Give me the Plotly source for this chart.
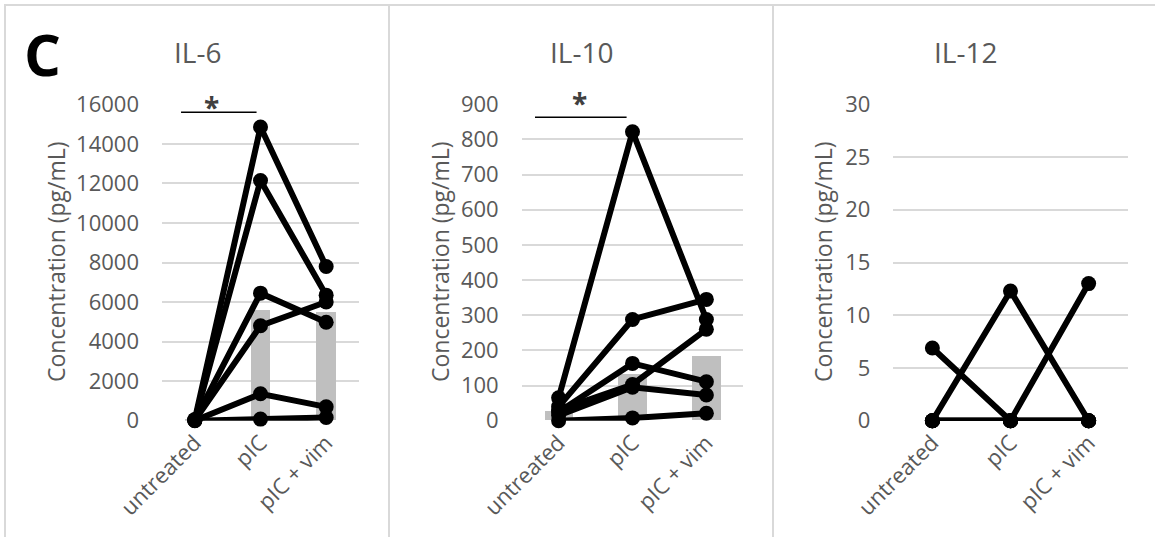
import plotly.graph_objects as go

W, H = 1155, 537

categories = ["untreated", "pIC", "pIC + vim"]

# IL-6 (pg/mL), one list per donor
il6_lines = [
    [60, 14850, 7800],
    [40, 12150, 6350],
    [30, 6450, 4980],
    [20, 4800, 6000],
    [10, 1360, 700],
    [0, 80, 160],
]
il6_bars = [30, 5600, 5480]

# IL-10 (pg/mL)
il10_lines = [
    [65, 822, 288],
    [40, 288, 345],
    [25, 163, 111],
    [30, 103, 260],
    [15, 95, 73],
    [0, 8, 21],
]
il10_bars = [28, 133, 184]

# IL-12 (pg/mL)
il12_lines = [
    [6.9, 0, 0],
    [0, 12.3, 0],
    [0, 0, 13.0],
    [0, 0, 0],
    [0, 0, 0],
    [0, 0, 0],
]
il12_bars = [0, 0, 0]

titles = ["IL-6", "IL-10", "IL-12"]
y_max = [16000, 900, 30]
y_step = [2000, 100, 5]
bar_width = [0.30, 0.39, 0.39]

# significance brackets: (x0, x1, y_line, x_star, y_star) in data units
sig = {0: (-0.21, 0.94, 15600, 0.26, 16170), 1: (-0.32, 0.92, 863, 0.28, 920)}

# layout geometry in pixels
plot_left = [162, 521.7, 893.3]
plot_right = [359, 743.3, 1127.7]
plot_top, plot_bottom = 104.3, 420.7
ytitle_x = [56, 440, 823]
title_x = [197, 581, 965]
panel_edges = [5, 389, 773]

GRAY_TXT = "#595959"
GRID = "#D9D9D9"
FONT = "Open Sans"

data_sets = [(il6_lines, il6_bars), (il10_lines, il10_bars), (il12_lines, il12_bars)]


def to_paper(i, xv, yv):
    """convert category/value units of panel i to paper fractions"""
    xd0, xd1 = plot_left[i] / W, plot_right[i] / W
    yd0, yd1 = 1 - plot_bottom / H, 1 - plot_top / H
    px = xd0 + (xv + 0.5) / 3.0 * (xd1 - xd0)
    py = yd0 + yv / y_max[i] * (yd1 - yd0)
    return px, py


fig = go.Figure()
for i, (lines, bars) in enumerate(data_sets):
    xa = "x" if i == 0 else f"x{i+1}"
    ya = "y" if i == 0 else f"y{i+1}"
    fig.add_trace(go.Bar(x=categories, y=bars, xaxis=xa, yaxis=ya, width=bar_width[i],
                         marker=dict(color="#BFBFBF", line=dict(width=0)), showlegend=False,
                         hoverinfo="skip"))
    for vals in lines:
        fig.add_trace(go.Scatter(x=categories, y=vals, xaxis=xa, yaxis=ya, mode="lines+markers",
                                 line=dict(color="black", width=6),
                                 marker=dict(color="black", size=15),
                                 showlegend=False, cliponaxis=False))

layout = dict(
    template="none",
    width=W, height=H, margin=dict(l=0, r=0, t=0, b=0, pad=0), autosize=False,
    paper_bgcolor="white", plot_bgcolor="white",
    font=dict(family=FONT, color=GRAY_TXT, size=22),
    bargap=0, showlegend=False,
)
annotations = []
shapes = []
for i in range(3):
    sfx = "" if i == 0 else str(i + 1)
    layout["xaxis" + sfx] = dict(
        domain=[plot_left[i] / W, plot_right[i] / W], anchor="y" + sfx,
        type="category", range=[-0.5, 2.5], showgrid=False, zeroline=False,
        showline=False, ticks="", tickangle=-45, automargin=False, ticklabelstandoff=4,
        tickfont=dict(family=FONT, size=22, color=GRAY_TXT), fixedrange=True,
    )
    layout["yaxis" + sfx] = dict(
        domain=[1 - plot_bottom / H, 1 - plot_top / H], anchor="x" + sfx,
        range=[0, y_max[i]], dtick=y_step[i], tick0=0, showgrid=True, tickformat="d",
        gridcolor=GRID, gridwidth=1.5, zeroline=False, showline=False, ticks="",
        ticklabelstandoff=22, automargin=False,
        tickfont=dict(family=FONT, size=22, color=GRAY_TXT), fixedrange=True,
    )
    annotations.append(dict(text="Concentration (pg/mL)", x=ytitle_x[i] / W, y=1 - 262 / H,
                            xref="paper", yref="paper", showarrow=False, textangle=-90,
                            xanchor="center", yanchor="middle",
                            font=dict(family=FONT, size=23, color=GRAY_TXT)))
    annotations.append(dict(text=titles[i], x=title_x[i] / W, y=1 - 52 / H,
                            xref="paper", yref="paper", showarrow=False,
                            xanchor="center", yanchor="middle",
                            font=dict(family=FONT, size=28, color=GRAY_TXT)))
    shapes.append(dict(type="line", xref="paper", yref="paper",
                       x0=panel_edges[i] / W, x1=panel_edges[i] / W, y0=0, y1=1 - 5 / H,
                       line=dict(color=GRID, width=2)))

for i, (x0, x1, yl, xs, ys) in sig.items():
    sfx = "" if i == 0 else str(i + 1)
    shapes.append(dict(type="line", xref="x" + sfx, yref="y" + sfx, x0=x0, x1=x1, y0=yl, y1=yl,
                       line=dict(color="black", width=1.5)))
    spx, spy = to_paper(i, xs, ys)
    annotations.append(dict(text="<b>*</b>", x=spx, y=spy, xref="paper", yref="paper",
                            showarrow=False, xanchor="center", yanchor="middle", yshift=-6,
                            font=dict(family=FONT, size=28, color="#404040")))

shapes.append(dict(type="line", xref="paper", yref="paper", x0=4 / W, x1=1, y0=1 - 5 / H, y1=1 - 5 / H,
                   line=dict(color=GRID, width=2)))
annotations.append(dict(text="<b>C</b>", x=42 / W, y=1 - 53 / H, xref="paper", yref="paper",
                        showarrow=False, xanchor="center", yanchor="middle",
                        font=dict(family=FONT, size=58, color="black")))

layout["annotations"] = annotations
layout["shapes"] = shapes
fig.update_layout(**layout)
fig.write_html("out.html")
